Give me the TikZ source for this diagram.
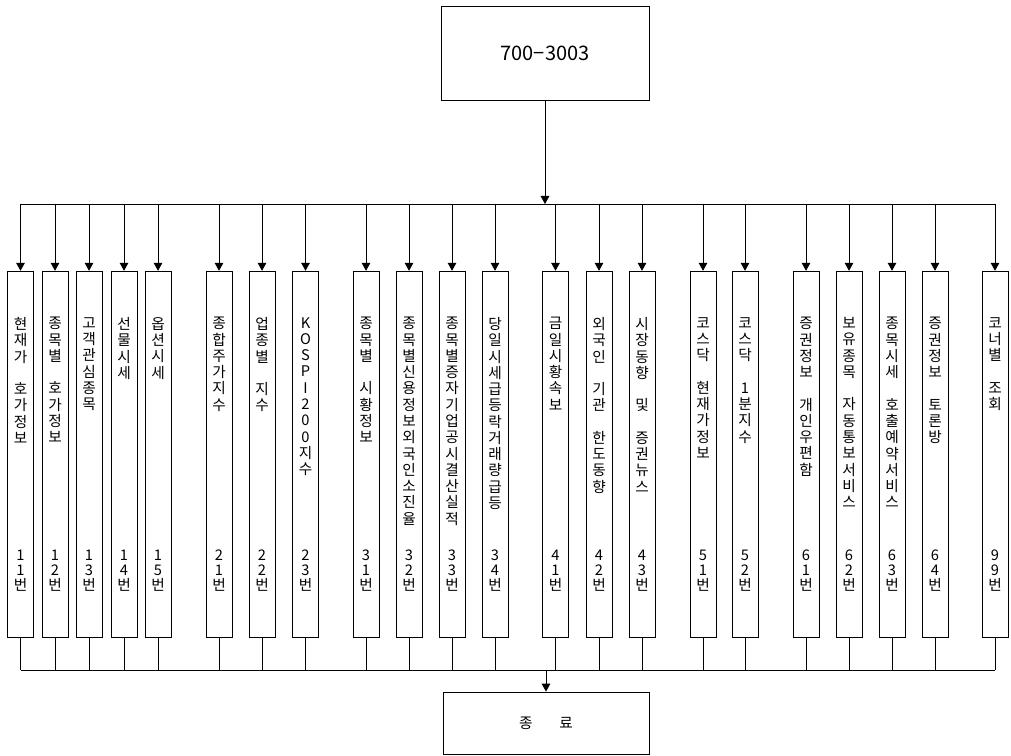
\documentclass[tikz,border=0pt]{standalone}
\usepackage{fontspec}
\setmainfont{Noto Sans CJK KR}
\usetikzlibrary{arrows.meta}
\newcommand{\menutext}[2]{\parbox[c][205pt][s]{18pt}{\centering\fontsize{11}{12.2}\selectfont #1\par\vfill\fontsize{11}{11.25}\selectfont #2\par}}
\tikzset{
  menu/.style={draw, minimum width=19.5pt, minimum height=275pt, inner sep=0pt},
  endbox/.style={draw, inner sep=0pt},
  feed/.style={-{Triangle[length=6pt,width=6.5pt]}},
}
\begin{document}
\begin{tikzpicture}[x=0.75pt, y=-0.75pt, line width=0.6pt]
\useasboundingbox (0,0) rectangle (1011,756);

\node[endbox, minimum width=156pt, minimum height=70pt, font=\fontsize{15}{18}\selectfont] at (545,53.5) (start) {700−3003};
\node[endbox, minimum width=154.5pt, minimum height=46.5pt, font=\fontsize{11}{13}\selectfont] at (546,723) (finish) {종\hspace{20pt}료};

\coordinate (bt) at (20.5,204);
\coordinate (bte) at (995,204);
\coordinate (bb) at (20.5,670);
\coordinate (bbe) at (995,670);

\node[menu] at (20.5,454.5) (m11) {\menutext{현\\재\\가\\~\\호\\가\\정\\보}{1\\1\\번}};
\node[menu] at (55,454.5) (m12) {\menutext{종\\목\\별\\~\\호\\가\\정\\보}{1\\2\\번}};
\node[menu] at (89,454.5) (m13) {\menutext{고\\객\\관\\심\\종\\목}{1\\3\\번}};
\node[menu] at (124,454.5) (m14) {\menutext{선\\물\\시\\세}{1\\4\\번}};
\node[menu] at (158,454.5) (m15) {\menutext{옵\\션\\시\\세}{1\\5\\번}};
\node[menu] at (219,454.5) (m21) {\menutext{종\\합\\주\\가\\지\\수}{2\\1\\번}};
\node[menu] at (262,454.5) (m22) {\menutext{업\\종\\별\\~\\지\\수}{2\\2\\번}};
\node[menu] at (305.5,454.5) (m23) {\menutext{K\\O\\S\\P\\I\\2\\0\\0\\지\\수}{2\\3\\번}};
\node[menu] at (366,454.5) (m31) {\menutext{종\\목\\별\\~\\시\\황\\정\\보}{3\\1\\번}};
\node[menu] at (409,454.5) (m32) {\menutext{종\\목\\별\\신\\용\\정\\보\\외\\국\\인\\소\\진\\율}{3\\2\\번}};
\node[menu] at (452,454.5) (m33) {\menutext{종\\목\\별\\증\\자\\기\\업\\공\\시\\결\\산\\실\\적}{3\\3\\번}};
\node[menu] at (495,454.5) (m34) {\menutext{당\\일\\시\\세\\급\\등\\락\\거\\래\\량\\급\\등}{3\\4\\번}};
\node[menu] at (555.5,454.5) (m41) {\menutext{금\\일\\시\\황\\속\\보}{4\\1\\번}};
\node[menu] at (599,454.5) (m42) {\menutext{외\\국\\인\\~\\기\\관\\~\\한\\도\\동\\향}{4\\2\\번}};
\node[menu] at (642,454.5) (m43) {\menutext{시\\장\\동\\향\\~\\및\\~\\증\\권\\뉴\\스}{4\\3\\번}};
\node[menu] at (703,454.5) (m51) {\menutext{코\\스\\닥\\~\\현\\재\\가\\정\\보}{5\\1\\번}};
\node[menu] at (745,454.5) (m52) {\menutext{코\\스\\닥\\~\\1\\분\\지\\수}{5\\2\\번}};
\node[menu] at (806,454.5) (m61) {\menutext{증\\권\\정\\보\\~\\개\\인\\우\\편\\함}{6\\1\\번}};
\node[menu] at (849,454.5) (m62) {\menutext{보\\유\\종\\목\\~\\자\\동\\통\\보\\서\\비\\스}{6\\2\\번}};
\node[menu] at (892,454.5) (m63) {\menutext{종\\목\\시\\세\\~\\호\\출\\예\\약\\서\\비\\스}{6\\3\\번}};
\node[menu] at (935,454.5) (m64) {\menutext{증\\권\\정\\보\\~\\토\\론\\방}{6\\4\\번}};
\node[menu] at (995,454.5) (m99) {\menutext{코\\너\\별\\~\\조\\회}{9\\9\\번}};

% top bus
\draw[feed] (start) -- (start.south |- bt);
\draw (bt) -- (bte);
\draw[feed] (m11.north |- bt) -- (m11);
\draw[feed] (m12.north |- bt) -- (m12);
\draw[feed] (m13.north |- bt) -- (m13);
\draw[feed] (m14.north |- bt) -- (m14);
\draw[feed] (m15.north |- bt) -- (m15);
\draw[feed] (m21.north |- bt) -- (m21);
\draw[feed] (m22.north |- bt) -- (m22);
\draw[feed] (m23.north |- bt) -- (m23);
\draw[feed] (m31.north |- bt) -- (m31);
\draw[feed] (m32.north |- bt) -- (m32);
\draw[feed] (m33.north |- bt) -- (m33);
\draw[feed] (m34.north |- bt) -- (m34);
\draw[feed] (m41.north |- bt) -- (m41);
\draw[feed] (m42.north |- bt) -- (m42);
\draw[feed] (m43.north |- bt) -- (m43);
\draw[feed] (m51.north |- bt) -- (m51);
\draw[feed] (m52.north |- bt) -- (m52);
\draw[feed] (m61.north |- bt) -- (m61);
\draw[feed] (m62.north |- bt) -- (m62);
\draw[feed] (m63.north |- bt) -- (m63);
\draw[feed] (m64.north |- bt) -- (m64);
\draw[feed] (m99.north |- bt) -- (m99);

% bottom bus
\draw (bb) -- (bbe);
\draw (m11) -- (m11.south |- bb) (m12) -- (m12.south |- bb) (m13) -- (m13.south |- bb)
      (m14) -- (m14.south |- bb) (m15) -- (m15.south |- bb) (m21) -- (m21.south |- bb)
      (m22) -- (m22.south |- bb) (m23) -- (m23.south |- bb) (m31) -- (m31.south |- bb)
      (m32) -- (m32.south |- bb) (m33) -- (m33.south |- bb) (m34) -- (m34.south |- bb)
      (m41) -- (m41.south |- bb) (m42) -- (m42.south |- bb) (m43) -- (m43.south |- bb)
      (m51) -- (m51.south |- bb) (m52) -- (m52.south |- bb) (m61) -- (m61.south |- bb)
      (m62) -- (m62.south |- bb) (m63) -- (m63.south |- bb) (m64) -- (m64.south |- bb)
      (m99) -- (m99.south |- bb);
\draw[feed] (finish.north |- bb) -- (finish);

\end{tikzpicture}
\end{document}
